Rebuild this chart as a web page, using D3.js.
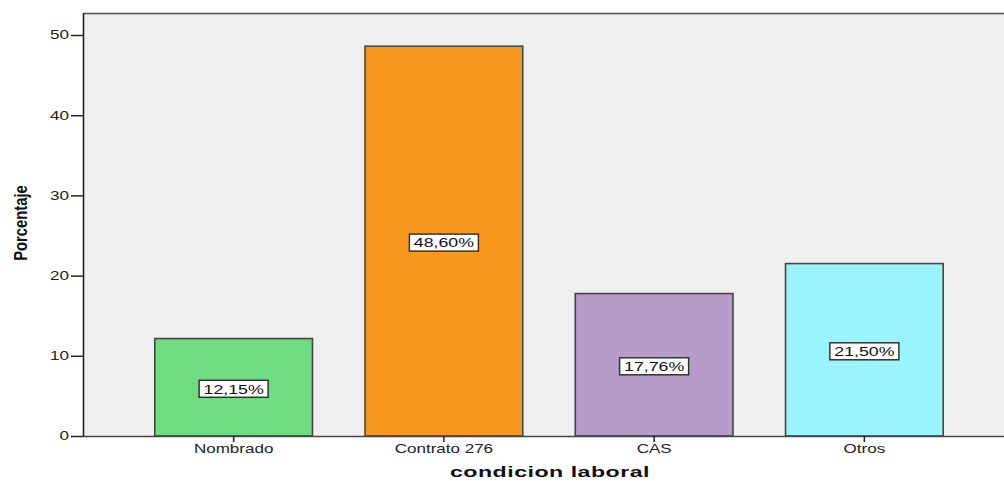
<!doctype html>
<html>
<head>
<meta charset="utf-8">
<style>
  body { margin: 0; background: #fff; }
  svg { display: block; font-family: "Liberation Sans", Arial, sans-serif; }
</style>
</head>
<body>
<svg id="chart" width="1004" height="481"></svg>
<script src="https://d3js.org/d3.v7.min.js"></script>
<script>
const categories = ['Nombrado', 'Contrato 276', 'CAS', 'Otros'];
const values = [12.15, 48.60, 17.76, 21.50];
const labels = ['12,15%', '48,60%', '17,76%', '21,50%'];
const colors = ['#6fdc82', '#f8991e', '#b79bc8', '#99f5fb'];
const yTicks = [0, 10, 20, 30, 40, 50];

const svg = d3.select('#chart');
const plotLeft = 83, plotTop = 13, plotBottom = 436, plotRight = 1004;
const stretch = 1.42; // the original text is drawn wide

const x = d3.scaleBand()
  .domain(categories)
  .range([128.5, 969.5])
  .paddingInner(0.25)
  .paddingOuter(0.125);

const y = d3.scaleLinear()
  .domain([0, 50])
  .range([plotBottom, 35]);

// plot background
svg.append('rect')
  .attr('x', plotLeft).attr('y', plotTop)
  .attr('width', plotRight - plotLeft).attr('height', plotBottom - plotTop)
  .attr('fill', '#efefef');

svg.append('line')
  .attr('x1', plotLeft).attr('x2', plotRight)
  .attr('y1', plotTop + 0.5).attr('y2', plotTop + 0.5)
  .attr('stroke', '#555').attr('stroke-width', 1.5);

// bars
svg.append('g').selectAll('rect')
  .data(values)
  .join('rect')
  .attr('x', (d, i) => x(categories[i]))
  .attr('y', d => y(d))
  .attr('width', x.bandwidth())
  .attr('height', d => plotBottom - y(d))
  .attr('fill', (d, i) => colors[i])
  .attr('stroke', '#444')
  .attr('stroke-width', 1.6);

// value labels
const lab = svg.append('g').selectAll('g')
  .data(values)
  .join('g')
  .attr('transform', (d, i) =>
    `translate(${x(categories[i]) + x.bandwidth() / 2},${y(d / 2) + 2})`);

lab.append('rect')
  .attr('x', -34.5).attr('y', -9)
  .attr('width', 69).attr('height', 17)
  .attr('fill', '#fff')
  .attr('stroke', '#333')
  .attr('stroke-width', 1.5);

lab.append('text')
  .attr('text-anchor', 'middle')
  .attr('transform', `scale(${stretch},1)`)
  .attr('dy', '0.35em')
  .attr('font-size', 12.5)
  .attr('fill', '#111')
  .text((d, i) => labels[i]);

// y axis
const yAxis = svg.append('g')
  .attr('transform', `translate(${plotLeft},0)`)
  .call(d3.axisLeft(y).tickValues(yTicks).tickSize(12).tickPadding(2));
yAxis.select('.domain').attr('d', `M0.5,${plotTop}V${plotBottom}`).attr('stroke', '#222').attr('stroke-width', 1.6);
yAxis.selectAll('.tick line').attr('stroke', '#222').attr('stroke-width', 1.5);
yAxis.selectAll('.tick text')
  .attr('x', 0)
  .attr('transform', `translate(-14,0) scale(${stretch},1)`)
  .attr('font-size', 12).attr('fill', '#222')
  .attr('font-family', '"Liberation Sans", Arial, sans-serif');

// x axis
const xAxis = svg.append('g')
  .attr('transform', `translate(0,${plotBottom})`)
  .call(d3.axisBottom(x).tickSize(6).tickPadding(2));
xAxis.select('.domain').attr('d', `M${plotLeft},0.5H${plotRight}`).attr('stroke', '#444').attr('stroke-width', 1.6);
xAxis.selectAll('.tick line').attr('stroke', '#222').attr('stroke-width', 1.5);
xAxis.selectAll('.tick text')
  .attr('transform', `scale(${stretch},1)`)
  .attr('font-size', 12).attr('fill', '#222')
  .attr('font-family', '"Liberation Sans", Arial, sans-serif');

// axis titles
svg.append('text')
  .attr('transform', 'translate(550,477) scale(1.6,1)')
  .attr('text-anchor', 'middle')
  .attr('font-size', 14.5)
  .attr('font-weight', 'bold')
  .attr('letter-spacing', 0.3)
  .attr('fill', '#111')
  .text('condicion laboral');

svg.append('text')
  .attr('transform', 'translate(27,223) rotate(-90) scale(0.8,1)')
  .attr('text-anchor', 'middle')
  .attr('font-size', 18.5)
  .attr('font-weight', 'bold')
  .attr('fill', '#111')
  .text('Porcentaje');
</script>
</body>
</html>
